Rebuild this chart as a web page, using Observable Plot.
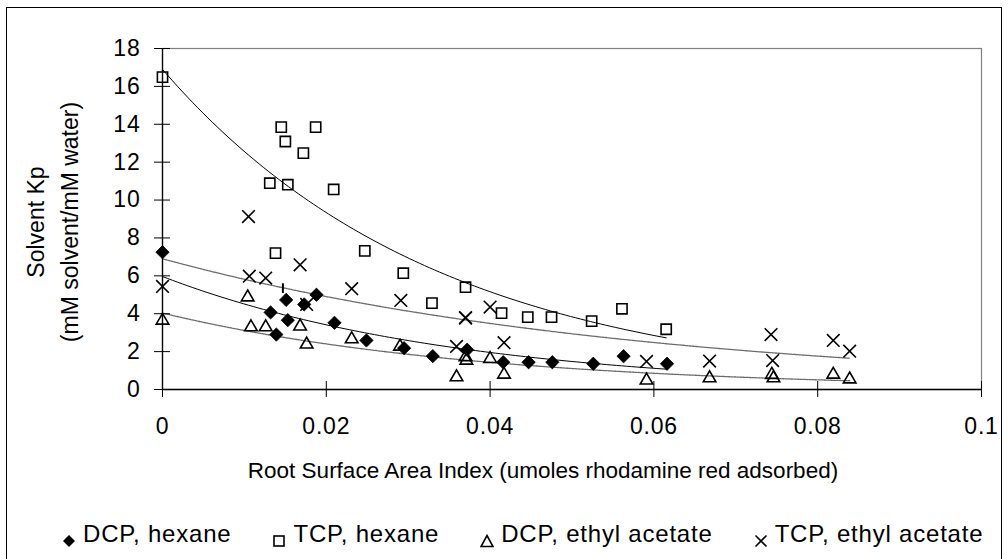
<!DOCTYPE html>
<html><head><meta charset="utf-8">
<script src="https://cdn.jsdelivr.net/npm/d3@7"></script>
<script src="https://cdn.jsdelivr.net/npm/@observablehq/plot@0.6"></script>
<style>
body{margin:0;background:#fff;font-family:"Liberation Sans",Arial,sans-serif;color:#000}
#wrap{position:relative;width:1008px;height:559px;overflow:hidden;background:#fff}
#border{position:absolute;left:6px;top:7px;width:996px;height:600px;border:1px solid #000;box-sizing:border-box}
#chart{position:absolute;left:0;top:0}
#chart svg text{letter-spacing:0.8px}
#ytitle{position:absolute;left:53px;top:222px;transform:translate(-50%,-50%) rotate(-90deg);text-align:center;font-size:23px;line-height:34px;white-space:nowrap}
#xtitle{position:absolute;left:543px;top:471px;transform:translate(-50%,-50%);font-size:22.5px;white-space:nowrap}
#legend{position:absolute;left:62px;top:522px;display:flex;font-size:24px;line-height:24px;letter-spacing:0.8px;white-space:nowrap;align-items:flex-end}
#legend .item{display:flex;align-items:flex-end;margin-right:41px}
#legend svg{margin-right:7px;position:relative;top:2px}
</style>
</head><body>
<div id="wrap">
  <div id="border"></div>
  <div id="chart"></div>
  <div id="ytitle">Solvent Kp<br>(mM solvent/mM water)</div>
  <div id="xtitle">Root Surface Area Index (umoles rhodamine red adsorbed)</div>
  <div id="legend"></div>
</div>
<script>
// ---- data ----
const seriesNames = ["DCP, hexane", "TCP, hexane", "DCP, ethyl acetate", "TCP, ethyl acetate"];

const dcpHexX = [0, 0.0151, 0.0188, 0.0173, 0.0132, 0.0153, 0.0139, 0.0210, 0.0249, 0.0295, 0.0330, 0.0372, 0.0416, 0.0447, 0.0476, 0.0526, 0.0563, 0.0616];
const dcpHexY = [7.25, 4.73, 5.00, 4.49, 4.07, 3.66, 2.90, 3.52, 2.59, 2.18, 1.76, 2.10, 1.44, 1.44, 1.44, 1.36, 1.76, 1.36];

const tcpHexX = [0, 0.0145, 0.0187, 0.0150, 0.0172, 0.0131, 0.0153, 0.0209, 0.0138, 0.0247, 0.0294, 0.0370, 0.0329, 0.0414, 0.0446, 0.0475, 0.0524, 0.0561, 0.0615];
const tcpHexY = [16.49, 13.85, 13.85, 13.09, 12.48, 10.89, 10.81, 10.56, 7.20, 7.32, 6.14, 5.40, 4.56, 4.03, 3.82, 3.82, 3.61, 4.26, 3.18];

const dcpEaX = [0, 0.0104, 0.0108, 0.0126, 0.0168, 0.0176, 0.0231, 0.0290, 0.0359, 0.0370, 0.0371, 0.0400, 0.0417, 0.0591, 0.0668, 0.0744, 0.0746, 0.0819, 0.0839];
const dcpEaY = [3.64, 4.87, 3.29, 3.29, 3.33, 2.38, 2.66, 2.27, 0.65, 1.71, 1.53, 1.62, 0.79, 0.48, 0.60, 0.78, 0.60, 0.79, 0.54];

const tcpEaX = [0, 0.0105, 0.0106, 0.0126, 0.0168, 0.0176, 0.0231, 0.0291, 0.0359, 0.0370, 0.0370, 0.0400, 0.0417, 0.0591, 0.0668, 0.0743, 0.0745, 0.0819, 0.0839];
const tcpEaY = [5.44, 9.13, 5.98, 5.88, 6.58, 4.49, 5.32, 4.70, 2.27, 3.77, 3.80, 4.35, 2.47, 1.48, 1.50, 2.90, 1.53, 2.59, 2.02];

// small stray vertical bar visible in the reference
const strayX = [0.0147];
const strayY1 = [5.07];
const strayY2 = [5.58];

const xTicks = [0, 0.02, 0.04, 0.06, 0.08, 0.1];
const yTicks = [0, 2, 4, 6, 8, 10, 12, 14, 16, 18];

// ---- build tables ----
const toRows = (xs, ys, s) => xs.map((x, i) => ({x, y: ys[i], series: s}));
const dcpHex = toRows(dcpHexX, dcpHexY, seriesNames[0]);
const tcpHex = toRows(tcpHexX, tcpHexY, seriesNames[1]);
const dcpEa = toRows(dcpEaX, dcpEaY, seriesNames[2]);
const tcpEa = toRows(tcpEaX, tcpEaY, seriesNames[3]);

// exponential trendline (least squares on ln y), spanning the series' x range
function expTrend(rows) {
  const n = rows.length;
  const sx = d3.sum(rows, d => d.x), sy = d3.sum(rows, d => Math.log(d.y));
  const sxx = d3.sum(rows, d => d.x * d.x), sxy = d3.sum(rows, d => d.x * Math.log(d.y));
  const b = (n * sxy - sx * sy) / (n * sxx - sx * sx);
  const lna = (sy - b * sx) / n;
  const [x0, x1] = d3.extent(rows, d => d.x);
  return d3.range(0, 101).map(i => {
    const x = x0 + (x1 - x0) * i / 100;
    return {x, y: Math.exp(lna + b * x), series: rows[0].series};
  });
}
const solidTrends = [...expTrend(dcpHex), ...expTrend(tcpHex)];
const dottedTrends = [...expTrend(dcpEa), ...expTrend(tcpEa)];
const stray = strayX.map((x, i) => ({x, y1: strayY1[i], y2: strayY2[i]}));

const fmtX = d => String(+d.toFixed(2));

const chart = Plot.plot({
  width: 1008,
  height: 559,
  marginLeft: 162,
  marginRight: 27,
  marginTop: 48,
  marginBottom: 170,
  style: {fontFamily: "'Liberation Sans', Arial, sans-serif", fontSize: "23px", color: "#000", background: "transparent"},
  x: {domain: [0, 0.1], label: null},
  y: {domain: [0, 18], label: null},
  marks: [
    Plot.frame({stroke: "#808080", strokeWidth: 1.2}),
    Plot.line(dottedTrends, {x: "x", y: "y", z: "series", stroke: "#6a6a6a", strokeWidth: 1.3, strokeDasharray: "2,1"}),
    Plot.line(solidTrends, {x: "x", y: "y", z: "series", stroke: "#000", strokeWidth: 1}),
    Plot.ruleY([0], {stroke: "#000", strokeWidth: 1.3}),
    Plot.ruleX([0], {stroke: "#000", strokeWidth: 1.3}),
    Plot.axisX(xTicks, {tickSize: 16, dy: -8, tickFormat: () => "", stroke: "#000", label: null}),
    Plot.axisX(xTicks, {tickSize: 0, tickPadding: 28, tickFormat: fmtX, fontSize: 23, label: null}),
    Plot.axisY(yTicks, {tickSize: 16, dx: 8, tickFormat: () => "", stroke: "#000", label: null}),
    Plot.axisY(yTicks, {tickSize: 0, tickPadding: 22, fontSize: 23, label: null}),
    Plot.ruleX(stray, {x: "x", y1: "y1", y2: "y2", stroke: "#000", strokeWidth: 2}),
    Plot.dot(dcpHex, {x: "x", y: "y", symbol: "diamond2", r: 6, fill: "#000", stroke: "#000", strokeWidth: 0.8}),
    Plot.dot(tcpHex, {x: "x", y: "y", symbol: "square2", r: 6.5, fill: "none", stroke: "#000", strokeWidth: 1.6}),
    Plot.dot(dcpEa, {x: "x", y: "y", symbol: "triangle2", r: 6, fill: "none", stroke: "#000", strokeWidth: 1.6}),
    Plot.dot(tcpEa, {x: "x", y: "y", symbol: "times", r: 5.8, stroke: "#000", strokeWidth: 1.6})
  ]
});
document.getElementById("chart").appendChild(chart);

// ---- legend ----
const legendSymbols = {
  "DCP, hexane": '<path d="M7,1 L13,7 L7,13 L1,7 Z" fill="#000"/>',
  "TCP, hexane": '<rect x="2" y="2" width="10" height="10" fill="none" stroke="#000" stroke-width="1.6"/>',
  "DCP, ethyl acetate": '<path d="M7,1.5 L13,12.5 L1,12.5 Z" fill="none" stroke="#000" stroke-width="1.6"/>',
  "TCP, ethyl acetate": '<path d="M1.5,1.5 L12.5,12.5 M12.5,1.5 L1.5,12.5" stroke="#000" stroke-width="1.6"/>'
};
const legend = document.getElementById("legend");
seriesNames.forEach(name => {
  const item = document.createElement("div");
  item.className = "item";
  item.innerHTML = `<svg width="14" height="14" viewBox="0 0 14 14">${legendSymbols[name]}</svg><span>${name}</span>`;
  legend.appendChild(item);
});
</script>
</body></html>
